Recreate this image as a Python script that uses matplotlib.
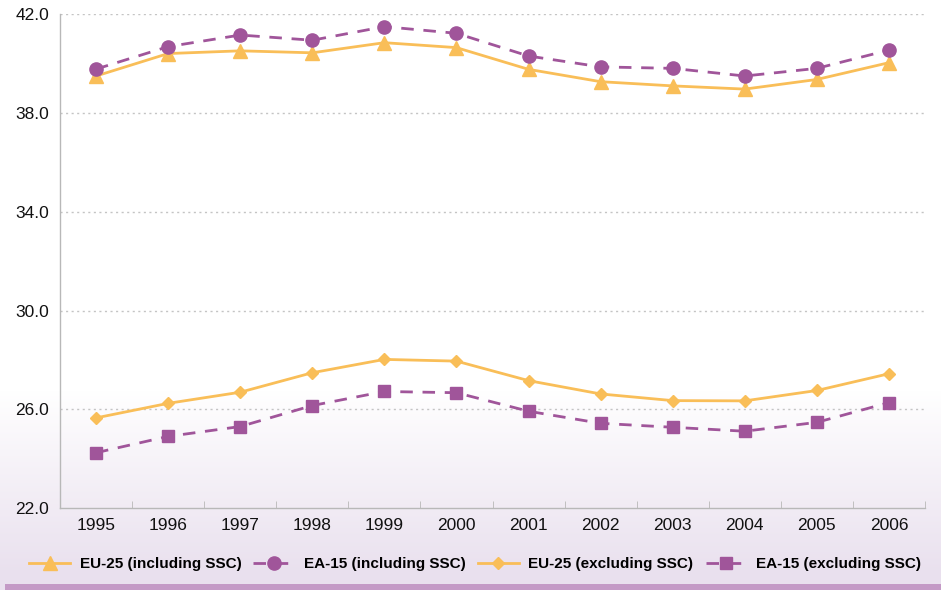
import matplotlib.pyplot as plt
import numpy as np
from matplotlib.patches import Rectangle

plt.rcParams["font.family"] = ["Liberation Sans", "DejaVu Sans"]

YEARS = ["1995", "1996", "1997", "1998", "1999", "2000",
         "2001", "2002", "2003", "2004", "2005", "2006"]

# tax burden, % of GDP
EU25_INCL = [39.5, 40.41, 40.52, 40.44, 40.85, 40.65, 39.77, 39.27, 39.1, 38.97, 39.36, 40.04]
EA15_INCL = [39.78, 40.69, 41.16, 40.95, 41.5, 41.23, 40.31, 39.87, 39.81, 39.5, 39.81, 40.55]
EU25_EXCL = [25.65, 26.24, 26.69, 27.48, 28.02, 27.95, 27.16, 26.62, 26.35, 26.34, 26.76, 27.44]
EA15_EXCL = [24.24, 24.9, 25.3, 26.15, 26.72, 26.67, 25.92, 25.43, 25.27, 25.11, 25.47, 26.27]

Y_TICKS = [22.0, 26.0, 30.0, 34.0, 38.0, 42.0]

ORANGE = "#f9be58"
PURPLE = "#a0559a"

fig = plt.figure(figsize=(9.41, 5.90), dpi=100)

# ── background: white fading to lavender, purple strip at the bottom ──
bg = fig.add_axes([0, 0, 1, 1], zorder=-10)
bg.set_axis_off()
h = 590
grad = np.ones((h, 1, 3))
top_c = np.array([1.0, 1.0, 1.0])
bot_c = np.array([233, 224, 238]) / 255
start = 390
for r in range(h):
    if r > start:
        t = min((r - start) / (575 - start), 1.0)
        grad[r, 0] = top_c * (1 - t) + bot_c * t
bg.imshow(grad, aspect="auto", extent=[0, 1, 0, 1], origin="upper")
bg.add_patch(Rectangle((5 / 941, 0), 1, 6.5 / 590, color="#c49ac6", lw=0))
bg.set_xlim(0, 1)
bg.set_ylim(0, 1)

ax = fig.add_axes([60 / 941, 1 - 508 / 590, 865 / 941, (508 - 14.3) / 590])
ax.patch.set_alpha(0)

x = np.arange(len(YEARS))
ax.plot(x, EU25_INCL, color=ORANGE, lw=2, marker="^", ms=10, label="EU-25 (including SSC)", zorder=3)
ax.plot(x, EA15_INCL, color=PURPLE, lw=2, ls=(0, (4.5, 3.5)), marker="o", ms=9.5,
        label="EA-15 (including SSC)", zorder=3)
ax.plot(x, EU25_EXCL, color=ORANGE, lw=2, marker="D", ms=6.5, label="EU-25 (excluding SSC)", zorder=3)
ax.plot(x, EA15_EXCL, color=PURPLE, lw=2, ls=(0, (4.5, 3.5)), marker="s", ms=8.5,
        label="EA-15 (excluding SSC)", zorder=3)

ax.set_xlim(-0.5, len(YEARS) - 0.5)
ax.set_ylim(22, 42)
ax.set_yticks(Y_TICKS)
ax.set_yticklabels([f"{v:.1f}" for v in Y_TICKS])
ax.set_xticks(x)
ax.set_xticklabels(YEARS)
ax.set_xticks(np.arange(-0.5, len(YEARS)), minor=True)
ax.tick_params(axis="x", which="major", length=0, pad=7, labelsize=12.5, colors="#111111")
ax.tick_params(axis="x", which="minor", length=5, direction="in", color="#b8b8b8")
ax.tick_params(axis="y", length=0, pad=8, labelsize=12.5, colors="#111111")

for yv in Y_TICKS[1:]:
    ax.axhline(yv, color="#c4c4c4", lw=1, ls=(0, (1.5, 2.5)), zorder=1)

for s in ("top", "right"):
    ax.spines[s].set_visible(False)
for s in ("left", "bottom"):
    ax.spines[s].set_color("#b8b8b8")
    ax.spines[s].set_linewidth(1)

fig.legend(loc="center", bbox_to_anchor=(475 / 941, 1 - 564 / 590), ncol=4, frameon=False,
           prop={"weight": "bold", "size": 11}, handlelength=2.7, handletextpad=0.6,
           columnspacing=0.8, borderaxespad=0)

fig.savefig("out.png", dpi=100)
